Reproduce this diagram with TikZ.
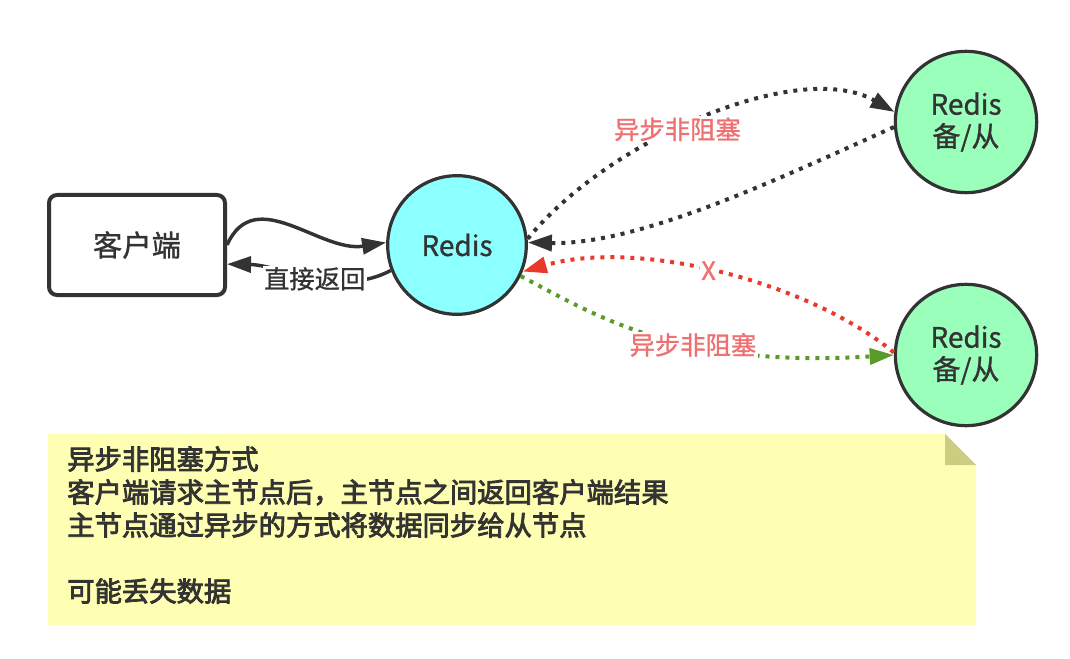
\documentclass[tikz,border=0pt]{standalone}
\usepackage{fontspec}
\setmainfont{Noto Sans CJK SC}[FakeBold=1]
\newfontfamily\notefont{Noto Sans CJK SC}[FakeBold=3]
\usetikzlibrary{arrows.meta}

\definecolor{redisblue}{HTML}{8CFFFF}
\definecolor{slavegreen}{HTML}{99FFBB}
\definecolor{linegray}{HTML}{333333}
\definecolor{labelred}{HTML}{EE7070}
\definecolor{failred}{HTML}{E8392A}
\definecolor{syncgreen}{HTML}{5A9A2A}
\definecolor{notefill}{HTML}{FFFFB3}
\definecolor{notefold}{HTML}{CDCD80}

\begin{document}
\begin{tikzpicture}[x=0.75pt,y=0.75pt,>={Triangle[length=18pt,width=12pt]}]
    \tikzset{client/.style = {shape=rectangle, rounded corners=6pt, draw=linegray, line width=3pt, fill=white, minimum width=132pt, minimum height=75pt, font=\fontsize{22}{26}\selectfont, text=linegray}}
    \tikzset{master/.style = {shape=circle, draw=linegray, line width=2.4pt, fill=redisblue, minimum size=104pt, font=\fontsize{21}{24}\selectfont, text=linegray}}
    \tikzset{slave/.style = {shape=circle, draw=linegray, line width=2.4pt, fill=slavegreen, minimum size=106pt, align=center, font=\fontsize{21}{24}\selectfont, text=linegray}}
    \tikzset{solidedge/.style = {draw=linegray, line width=2.6pt}}
    \tikzset{dotedge/.style = {line width=3pt, dash pattern=on 3pt off 4.5pt}}
    \tikzset{edgelabel/.style = {fill=white, inner sep=1pt, text=labelred, font=\fontsize{19}{22}\selectfont}}

    \useasboundingbox (0,0) rectangle (1070,658);

    % note
    \fill[notefill] (48,33) -- (48,224) -- (945,224) -- (976,193) -- (976,33) -- cycle;
    \fill[notefold] (945,224) -- (945,193) -- (976,193) -- cycle;
    \node[anchor=north west, inner sep=0pt, align=left, text=linegray, font=\notefont\fontsize{20.5}{24.75}\selectfont] (note) at (67,212)
        {异步非阻塞方式\\客户端请求主节点后，主节点之间返回客户端结果\\主节点通过异步的方式将数据同步给从节点\\ \strut\\可能丢失数据};

    % vertices
    \node[client] (c) at (137,413) {客户端};
    \node[master] (r) at (457,413) {Redis};
    \node[slave] (t) at (966,536) {Redis\\备/从};
    \node[slave] (b) at (966,303) {Redis\\备/从};

    % edges
    \draw[->,solidedge] (c.east) .. controls (255,475) and (320,405) .. (r.178);
    \draw[->,solidedge] (r.201) .. controls (340,360) and (280,393) .. (c.-12)
        node[pos=0.47, edgelabel, text=linegray] {直接返回};
    \draw[->,dotedge,linegray] (r.5) .. controls (610,520) and (800,600) .. (t.172)
        node[pos=0.43, edgelabel] {异步非阻塞};
    \draw[->,dotedge,linegray] (t.184) .. controls (780,480) and (640,413) .. (r.2);
    \draw[->,dotedge,failred] (b.178) .. controls (810,375) and (640,420) .. (r.-22)
        node[pos=0.53, edgelabel] {X};
    \draw[->,dotedge,syncgreen] (r.-26) .. controls (600,340) and (680,290) .. (b.180)
        node[pos=0.6, edgelabel] {异步非阻塞};
\end{tikzpicture}
\end{document}
